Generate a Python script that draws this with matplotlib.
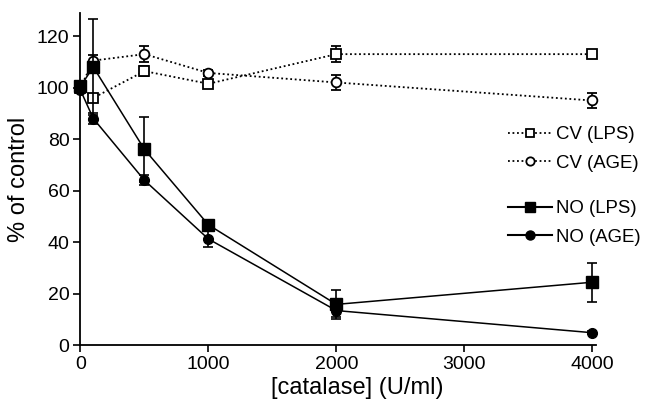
import matplotlib
matplotlib.use("Agg")
import matplotlib.pyplot as plt
from matplotlib.lines import Line2D

plt.rcParams['font.family'] = ['Liberation Sans', 'DejaVu Sans']

catalase = [0, 100, 500, 1000, 2000, 4000]

cv_lps = [100, 96, 106.4, 101.5, 113, 113]
cv_lps_err = [0, 0, 2, 1.5, 3, 1]
cv_age = [100, 110.5, 113, 105.7, 102, 95]
cv_age_err = [0, 2, 3, 1, 3, 3]
no_lps = [100.5, 108, 76, 46.7, 15.8, 24.4]
no_lps_err = [2, 18.5, 12.7, 2, 5.5, 7.5]
no_age = [99, 88, 64, 41.2, 13.4, 4.8]
no_age_err = [1, 2, 2, 3.2, 2.5, 0.5]

xticks = [0, 1000, 2000, 3000, 4000]
yticks = [0, 20, 40, 60, 80, 100, 120]

fig = plt.figure(figsize=(6.45, 4.05), dpi=100)
ax = fig.add_axes([0.1248, 0.148, 0.924 - 0.1248, 0.968 - 0.148])

common = dict(color='black', ecolor='black', elinewidth=1.2, capsize=3.5,
              capthick=1.2, clip_on=False)
DOT = (0, (1, 1.5))

ax.errorbar(catalase, cv_lps, yerr=cv_lps_err, fmt='s', linestyle=DOT,
            linewidth=1.3, markersize=7, markerfacecolor='white',
            markeredgecolor='black', markeredgewidth=1.3, zorder=3, **common)
ax.errorbar(catalase, cv_age, yerr=cv_age_err, fmt='o', linestyle=DOT,
            linewidth=1.3, markersize=7, markerfacecolor='white',
            markeredgecolor='black', markeredgewidth=1.3, zorder=3, **common)
ax.errorbar(catalase, no_lps, yerr=no_lps_err, fmt='s', linestyle='-',
            linewidth=1.1, markersize=8.5, markerfacecolor='black',
            markeredgecolor='black', zorder=4, **common)
ax.errorbar(catalase, no_age, yerr=no_age_err, fmt='o', linestyle='-',
            linewidth=1.1, markersize=7, markerfacecolor='black',
            markeredgecolor='black', zorder=4, **common)

ax.set_xlim(0, 4030)
ax.set_ylim(0, 129)
ax.set_xticks(xticks)
ax.set_yticks(yticks)
ax.tick_params(direction='out', length=5, width=1.2, labelsize=14, pad=3)
for s in ['top', 'right']:
    ax.spines[s].set_visible(False)
for s in ['left', 'bottom']:
    ax.spines[s].set_linewidth(1.3)

ax.set_xlabel('[catalase] (U/ml)', fontsize=17)
ax.xaxis.set_label_coords(0.536, -0.095)
ax.set_ylabel('% of control', fontsize=17, labelpad=5)

h_cv_lps = Line2D([], [], color='black', linestyle=DOT, linewidth=1.3,
                  marker='s', markersize=6, markerfacecolor='white', markeredgewidth=1.3)
h_cv_age = Line2D([], [], color='black', linestyle=DOT, linewidth=1.3,
                  marker='o', markersize=6, markerfacecolor='white', markeredgewidth=1.3)
h_no_lps = Line2D([], [], color='black', linewidth=1.5, marker='s', markersize=7)
h_no_age = Line2D([], [], color='black', linewidth=1.5, marker='o', markersize=6.5)

leg_kw = dict(loc='upper left', frameon=False, fontsize=13.4, handlelength=2.35,
              handletextpad=0.25, labelspacing=0.62, borderpad=0, borderaxespad=0)
leg1 = fig.legend([h_cv_lps, h_cv_age], ['CV (LPS)', 'CV (AGE)'],
                  bbox_to_anchor=(508 / 645, 1 - 126 / 405), **leg_kw)
leg2 = fig.legend([h_no_lps, h_no_age], ['NO (LPS)', 'NO (AGE)'],
                  bbox_to_anchor=(508 / 645, 1 - 200 / 405), **leg_kw)

fig.savefig('out.png', dpi=100)
